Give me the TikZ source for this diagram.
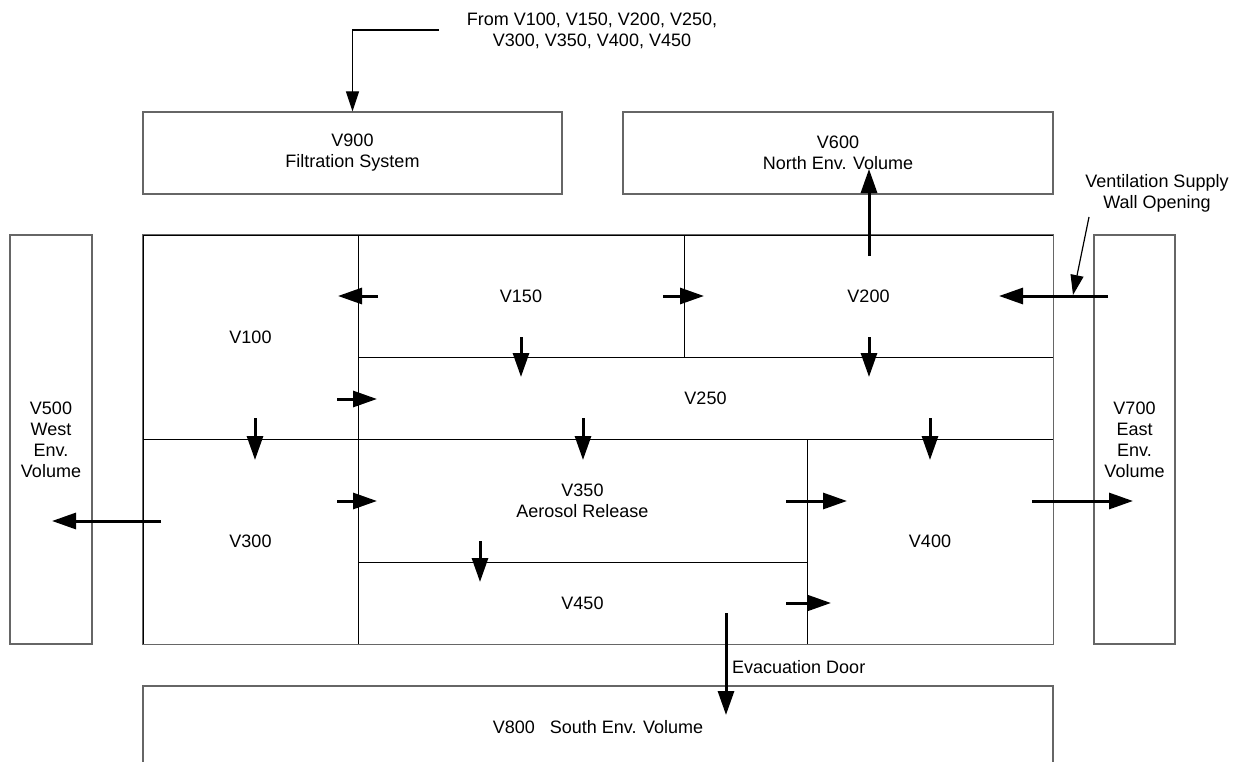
\documentclass[tikz,border=0pt]{standalone}
\usepackage{fontspec}
\setmainfont{Liberation Sans}
\usetikzlibrary{arrows.meta}

\begin{document}
\begin{tikzpicture}[x=1bp,y=-1bp]
        \tikzstyle{room}=[draw=black,line width=0.8bp,inner sep=0pt,align=center,font=\fontsize{18bp}{21bp}\selectfont]
        \tikzstyle{env}=[room,draw=black!60,line width=1.2bp]
        \tikzstyle{note}=[inner sep=0pt,align=center,font=\fontsize{18bp}{21bp}\selectfont]
        \tikzstyle{flow}=[-{Triangle[length=24bp,width=16bp]},line width=3bp]
        \tikzstyle{lead}=[-{Triangle[length=20bp,width=13bp]},line width=1.2bp]

        \useasboundingbox (0,0) rectangle (1233,762);

        % rooms of the building
        \node [room,minimum width=215bp,minimum height=204bp] (v100) at (250.5,337) {V100};
        \node [room,minimum width=215bp,minimum height=205bp] (v300) at (250.5,541.5) {V300};
        \node [room,minimum width=326bp,minimum height=122bp] (v150) at (521,296) {V150};
        \node [room,minimum width=369bp,minimum height=122bp] (v200) at (868.5,296) {V200};
        \node [room,minimum width=695bp,minimum height=82bp] (v250) at (705.5,398) {V250};
        \node [room,minimum width=449bp,minimum height=123bp] (v350) at (582.5,500.5) {V350\\Aerosol Release};
        \node [room,minimum width=449bp,minimum height=82bp] (v450) at (582.5,603) {V450};
        \node [room,minimum width=246bp,minimum height=205bp] (v400) at (930,541.5) {V400};
        \draw [black!60,line width=1.2bp] (v100.north west) rectangle (v400.south east);

        % environment volumes
        \node [env,minimum width=82bp,minimum height=409bp] (v500) at (51,439.5) {V500\\West\\Env.\\Volume};
        \node [env,minimum width=81bp,minimum height=409bp] (v700) at (1134.5,439.5) {V700\\East\\Env.\\Volume};
        \node [env,minimum width=419bp,minimum height=82bp] (v900) at (352.5,153) {V900\\Filtration System};
        \node [env,minimum width=430bp,minimum height=82bp] (v600) at (838,153) {V600\\North Env. Volume};
        \node [env,minimum width=910bp,minimum height=82bp] (v800) at (598,727) {V800\hspace{15bp}South Env. Volume};

        % notes
        \node [note] (from) at (592,31) {From V100, V150, V200, V250,\\V300, V350, V400, V450};
        \node [note] (vent) at (1157,193) {Ventilation Supply\\Wall Opening};
        \node [note,anchor=west] (evac) at (732,667) {Evacuation Door};

        % flow paths
        \coordinate (t0) at (439,30);
        \draw [lead] (t0) -| (v900.north);
        \coordinate (t1) at (869,256); \coordinate (h1) at (869,169);
        \draw [flow] (t1) -- (h1);
        \coordinate (t2) at (378,296); \coordinate (h2) at (338,296);
        \draw [flow] (t2) -- (h2);
        \coordinate (t3) at (663,296); \coordinate (h3) at (704,296);
        \draw [flow] (t3) -- (h3);
        \coordinate (t4) at (1108,296); \coordinate (h4) at (999,296);
        \draw [flow] (t4) -- (h4);
        \coordinate (t5) at (1089,217); \coordinate (h5) at (1073,295);
        \draw [lead] (t5) -- (h5);
        \coordinate (t6) at (521,337); \coordinate (h6) at (521,377);
        \draw [flow] (t6) -- (h6);
        \coordinate (t7) at (869,337); \coordinate (h7) at (869,377);
        \draw [flow] (t7) -- (h7);
        \coordinate (t8) at (337,399); \coordinate (h8) at (377,399);
        \draw [flow] (t8) -- (h8);
        \coordinate (t9) at (255,418); \coordinate (h9) at (255,460);
        \draw [flow] (t9) -- (h9);
        \coordinate (t10) at (583,418); \coordinate (h10) at (583,460);
        \draw [flow] (t10) -- (h10);
        \coordinate (t11) at (930,418); \coordinate (h11) at (930,460);
        \draw [flow] (t11) -- (h11);
        \coordinate (t12) at (337,501); \coordinate (h12) at (377,501);
        \draw [flow] (t12) -- (h12);
        \coordinate (t13) at (786,501); \coordinate (h13) at (847,501);
        \draw [flow] (t13) -- (h13);
        \coordinate (t14) at (1032,501); \coordinate (h14) at (1133,501);
        \draw [flow] (t14) -- (h14);
        \coordinate (t15) at (161,521); \coordinate (h15) at (52,521);
        \draw [flow] (t15) -- (h15);
        \coordinate (t16) at (480,541); \coordinate (h16) at (480,582);
        \draw [flow] (t16) -- (h16);
        \coordinate (t17) at (786,603); \coordinate (h17) at (831,603);
        \draw [flow] (t17) -- (h17);
        \coordinate (t18) at (726,613); \coordinate (h18) at (726,715);
        \draw [flow] (t18) -- (h18);
\end{tikzpicture}
\end{document}
